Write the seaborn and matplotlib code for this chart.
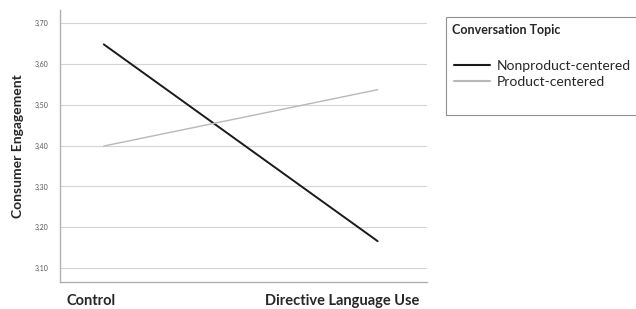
import pandas as pd
import seaborn as sns
import matplotlib.pyplot as plt
from matplotlib.patches import Rectangle

conditions = ['Control', 'Directive Language Use']
topics = ['Nonproduct-centered', 'Product-centered']
nonproduct = [3.648, 3.166]
product = [3.399, 3.537]
yticks = [3.10, 3.20, 3.30, 3.40, 3.50, 3.60, 3.70]
ytick_labels = ['3,10', '3,20', '3,30', '3,40', '3,50', '3,60', '3,70']

df = pd.DataFrame({
    'x': [0, 1, 0, 1],
    'engagement': nonproduct + product,
    'topic': [topics[0]] * 2 + [topics[1]] * 2,
})

sns.set_style('white')
plt.rcParams['font.family'] = ['Lato', 'DejaVu Sans']

fig = plt.figure(figsize=(6.36, 3.09), dpi=100)
ax = fig.add_axes([0.0943, 0.0874, 0.577, 0.88])

sns.lineplot(data=df, x='x', y='engagement', hue='topic',
             palette=['#1a1a1a', '#b8b8b8'], ax=ax, legend=True)
for line, lw in zip(ax.lines, [1.4, 1.0]):
    line.set_linewidth(lw)

ax.set_xlim(-0.16, 1.18)
ax.set_ylim(3.066, 3.732)
ax.set_yticks(yticks)
ax.set_yticklabels(ytick_labels, fontsize=5, color='#555555')
ax.tick_params(axis='y', length=0, pad=8)
ax.set_xticks([])
ax.yaxis.grid(True, color='#d4d4d4', linewidth=0.8)
ax.set_axisbelow(True)
for side in ['top', 'right']:
    ax.spines[side].set_visible(False)
for side in ['left', 'bottom']:
    ax.spines[side].set_color('#b0b0b0')
    ax.spines[side].set_linewidth(1.0)
ax.set_xlabel('')
ax.set_ylabel('Consumer Engagement', fontsize=10, fontweight='bold')
ax.yaxis.set_label_coords(-0.098, 0.5)

# category labels under the axis, shifted left like the original
for pos, name, shift in zip([0, 1], conditions, [-0.047, -0.131]):
    ax.text(pos + shift, -0.07, name, transform=ax.get_xaxis_transform(),
            ha='center', va='center', fontsize=10.5, fontweight='bold')

# legend box
handles, labels = ax.get_legend_handles_labels()
ax.get_legend().remove()
fig.patches.append(Rectangle((446 / 636, 1 - 115 / 309), 200 / 636, 98 / 309,
                             transform=fig.transFigure, fill=False,
                             edgecolor='#909090', linewidth=0.8))
fig.text(452 / 636, 1 - 30 / 309, 'Conversation Topic', fontsize=9,
         fontweight='bold', va='center', ha='left')
fig.legend(handles, labels, loc='upper left',
           bbox_to_anchor=(444 / 636, 1 - 50 / 309), frameon=False,
           fontsize=10, handlelength=2.6, handletextpad=0.5,
           labelspacing=0.3, borderpad=0.2)

plt.savefig('out.png', dpi=100)
